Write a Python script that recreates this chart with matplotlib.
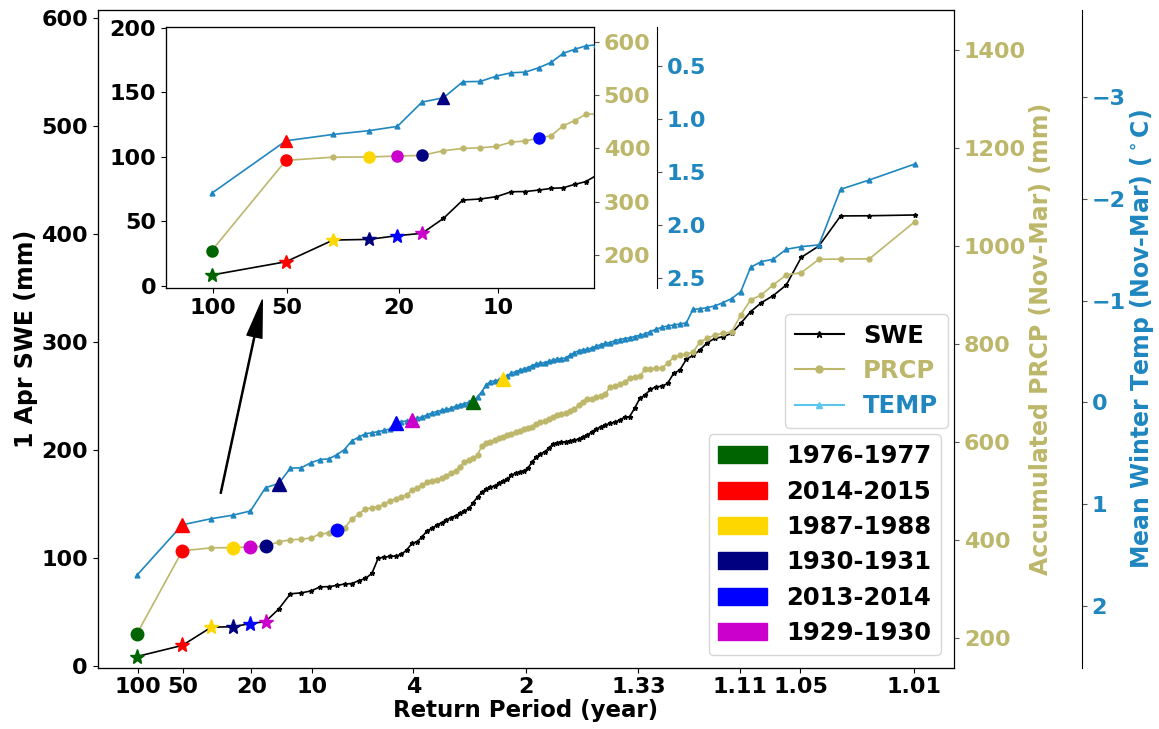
import numpy as np
import matplotlib
matplotlib.use('Agg')
import matplotlib.pyplot as plt
from matplotlib.lines import Line2D
from matplotlib.patches import Patch
from matplotlib.ticker import FixedLocator, FixedFormatter, MultipleLocator
from statistics import NormalDist

# ---------------- data (sorted by rank, 100 years) ----------------
swe = [8.5, 18.8, 35.6, 36.1, 39.0, 40.8, 52.4, 66.6, 67.4, 69.2,
       73.0, 73.2, 74.3, 75.6, 76.1, 78.7, 80.8, 85.5, 99.5, 100.5,
       101.2, 101.5, 103.1, 107.1, 113.3, 114.8, 119.5, 125.0, 127.2, 130.3,
       132.4, 134.9, 137.1, 138.8, 141.0, 143.2, 145.6, 150.9, 156.4, 160.5,
       163.6, 165.4, 166.4, 168.8, 171.0, 172.5, 176.5, 178.1, 179.6, 180.6,
       182.7, 188.9, 193.0, 196.0, 198.0, 201.2, 205.2, 206.5, 207.1, 207.4,
       208.0, 209.0, 209.6, 212.1, 213.3, 216.7, 218.9, 221.3, 222.9, 224.4,
       225.4, 227.5, 230.0, 230.6, 238.3, 247.5, 250.6, 255.8, 258.3, 258.6,
       261.4, 270.6, 273.7, 283.6, 287.3, 292.3, 299.1, 303.1, 304.6, 307.7,
       317.0, 327.8, 336.1, 342.6, 352.5, 378.1, 388.6, 416.4, 416.6, 417.3]

prcp = [208, 377.5, 383.5, 384, 385.6, 386.9, 395.6, 400, 401, 403.8,
        411.9, 413.8, 419.4, 423.8, 442.5, 451.9, 463.8, 465, 467.8, 472.5,
        480, 483.4, 488.2, 491.6, 501.8, 506.6, 512, 517.5, 520.2, 522.2,
        525.6, 531.1, 535.9, 540.6, 549.5, 558.4, 563.1, 566.5, 573.3, 592.4,
        597.2, 600.6, 603.3, 607.4, 610.8, 614.2, 617, 619.7, 622.4, 626.5,
        629.2, 631.3, 636, 640, 642, 646.1, 651.5, 654.9, 656.9, 658.3,
        662.4, 666.5, 675.3, 682.1, 686.9, 688.3, 691, 693.7, 697.8, 712.8,
        714.1, 717.5, 723, 729.8, 731.8, 734.6, 748.2, 749.5, 750.2, 750.9,
        760.4, 772.7, 776.8, 779.5, 782.9, 804.7, 811.5, 818.3, 821.7, 824.5,
        859.2, 890, 900.2, 920.6, 941, 945.7, 973, 973.5, 974, 1050]

temp = [1.701, 1.205, 1.145, 1.110, 1.069, 0.840, 0.799, 0.648, 0.645, 0.594,
        0.563, 0.557, 0.516, 0.465, 0.380, 0.342, 0.310, 0.300, 0.289, 0.276,
        0.262, 0.207, 0.190, 0.184, 0.174, 0.157, 0.144, 0.125, 0.105, 0.092,
        0.079, 0.069, 0.059, 0.039, 0.026, 0.013, 0.000, -0.006, -0.056, -0.105,
        -0.170, -0.203, -0.210, -0.219, -0.229, -0.262, -0.285, -0.301, -0.314, -0.328,
        -0.341, -0.360, -0.377, -0.385, -0.390, -0.403, -0.416, -0.422, -0.429, -0.436,
        -0.462, -0.488, -0.505, -0.515, -0.521, -0.534, -0.551, -0.567, -0.580, -0.587,
        -0.606, -0.616, -0.626, -0.633, -0.646, -0.658, -0.672, -0.695, -0.718, -0.737,
        -0.750, -0.760, -0.770, -0.780, -0.914, -0.918, -0.931, -0.947, -0.980, -1.019,
        -1.088, -1.327, -1.383, -1.406, -1.504, -1.530, -1.547, -2.094, -2.186, -2.343]

tick_prob = [0.01, 0.02, 0.05, 0.1, 0.25, 0.5, 0.75, 0.9, 0.95, 0.99]
tick_labels = ['100', '50', '20', '10', '4', '2', '1.33', '1.11', '1.05', '1.01']
inset_tick_prob = [0.01, 0.02, 0.05, 0.1]
inset_tick_labels = ['100', '50', '20', '10']

years = ['1976-1977', '2014-2015', '1987-1988', '1930-1931', '2013-2014', '1929-1930']
year_colors = ['#006400', '#ff0000', '#ffd700', '#000080', '#0000ff', '#cc00cc']
swe_rank = [1, 2, 3, 4, 5, 6]
prcp_rank = [1, 2, 4, 6, 13, 5]
temp_rank = [38, 2, 45, 7, 22, 25]

C_SWE = 'black'
C_PRCP = '#bdb76b'
C_TEMP = '#1f86c0'
C_TEMP_LEG = '#5cc6ee'

# ---------------- style ----------------
plt.rcParams['font.family'] = ['DejaVu Sans']
plt.rcParams['font.weight'] = 'bold'
plt.rcParams['axes.labelweight'] = 'bold'

n = len(swe)
rank = np.arange(1, n + 1)
prob = rank / (n + 1.0)

_nd = NormalDist()
_ppf = np.vectorize(lambda v: _nd.inv_cdf(float(v)), otypes=[float])
_cdf = np.vectorize(lambda v: _nd.cdf(float(v)), otypes=[float])


def fwd(p):
    p = np.clip(np.asarray(p, dtype=float), 1e-9, 1 - 1e-9)
    return _ppf(p)


def inv(z):
    return _cdf(np.asarray(z, dtype=float))


def draw(ax, ax2, ax3, ms_base, ms_hi):
    ax.plot(prob, swe, color=C_SWE, marker='*', ms=ms_base, lw=1.2, zorder=2)
    ax2.plot(prob, prcp, color=C_PRCP, marker='o', ms=ms_base, lw=1.2, zorder=2)
    ax3.plot(prob, temp, color=C_TEMP, marker='^', ms=ms_base, lw=1.2, zorder=2)
    for c, rs, rp, rt in zip(year_colors, swe_rank, prcp_rank, temp_rank):
        ax.plot(prob[rs - 1], swe[rs - 1], marker='*', ms=ms_hi + 2, color=c,
                ls='none', zorder=5)
        ax2.plot(prob[rp - 1], prcp[rp - 1], marker='o', ms=ms_hi, color=c,
                 ls='none', zorder=5)
        ax3.plot(prob[rt - 1], temp[rt - 1], marker='^', ms=ms_hi + 1, color=c,
                 ls='none', zorder=5)


fig = plt.figure(figsize=(11.59, 7.29), dpi=100)
ax = fig.add_axes([0.0843, 0.0841, 0.7389, 0.9022])
ax.set_xscale('function', functions=(fwd, inv))
ax2 = ax.twinx()
ax3 = ax.twinx()
ax3.spines['right'].set_position(('axes', 1.149))

draw(ax, ax2, ax3, 3.5, 9)

ax.set_xlim(0.00516, 0.99484)
ax.xaxis.set_major_locator(FixedLocator(tick_prob))
ax.xaxis.set_major_formatter(FixedFormatter(tick_labels))
ax.xaxis.set_minor_locator(FixedLocator([]))
ax.set_ylim(-1.85, 607.1)
ax.yaxis.set_major_locator(MultipleLocator(100))
ax2.set_ylim(138.7, 1482.3)
ax2.yaxis.set_major_locator(MultipleLocator(200))
ax3.set_ylim(2.61, -3.857)
ax3.yaxis.set_major_locator(MultipleLocator(1))

fs_tick = 16
ax.tick_params(labelsize=fs_tick)
ax2.tick_params(labelsize=fs_tick, colors=C_PRCP, axis='y')
ax3.tick_params(labelsize=fs_tick, colors=C_TEMP, axis='y')
ax2.tick_params(axis='y', color='#555555')
ax3.tick_params(axis='y', color='#555555')

ax.set_xlabel('Return Period (year)', fontsize=16.5, labelpad=1)
ax.set_ylabel('1 Apr SWE (mm)', fontsize=17, labelpad=2)
ax2.set_ylabel('Accumulated PRCP (Nov-Mar) (mm)', fontsize=17, color=C_PRCP,
               labelpad=2)
ax3.set_ylabel(r'Mean Winter Temp (Nov-Mar) ($^\circ$C)', fontsize=17,
               color=C_TEMP, labelpad=2)

# arrow pointing to the inset
ax.annotate('', xy=(0.1922, 0.559), xytext=(0.1436, 0.2652),
            xycoords='axes fraction', textcoords='axes fraction',
            arrowprops=dict(facecolor='black', edgecolor='black', width=0.8,
                            headwidth=11, headlength=27, shrink=0))

# legends
line_handles = [
    Line2D([], [], color=C_SWE, marker='*', ms=5, lw=1.5, label='SWE'),
    Line2D([], [], color=C_PRCP, marker='o', ms=5, lw=1.5, label='PRCP'),
    Line2D([], [], color=C_TEMP_LEG, marker='^', ms=5, lw=1.5, label='TEMP'),
]
leg1 = ax3.legend(handles=line_handles, loc='upper right',
                  bbox_to_anchor=(0.993, 0.538), borderaxespad=0,
                  prop=dict(size=17.5, weight='bold'), labelspacing=0.47,
                  handlelength=2.0)
for txt, c in zip(leg1.get_texts(), [C_SWE, C_PRCP, C_TEMP]):
    txt.set_color(c)
ax3.add_artist(leg1)
patch_handles = [Patch(color=c, label=y) for c, y in zip(year_colors, years)]
ax3.legend(handles=patch_handles, loc='lower right',
           bbox_to_anchor=(0.985, 0.0193), borderaxespad=0,
           prop=dict(size=17.5, weight='bold'), labelspacing=0.47,
           handlelength=2.0)

# ---------------- inset ----------------
axi = fig.add_axes([0.1432, 0.6045, 0.3693, 0.3588])
axi.set_xscale('function', functions=(fwd, inv))
axi2 = axi.twinx()
axi3 = axi.twinx()
axi3.spines['right'].set_position(('axes', 1.147))
draw(axi, axi2, axi3, 3.5, 8)
axi.set_xlim(0.00626, 0.1762)
axi.xaxis.set_major_locator(FixedLocator(inset_tick_prob))
axi.xaxis.set_major_formatter(FixedFormatter(inset_tick_labels))
axi.xaxis.set_minor_locator(FixedLocator([]))
axi.set_ylim(-1.78, 200.8)
axi.yaxis.set_major_locator(MultipleLocator(50))
axi2.set_ylim(137.6, 628.1)
axi2.yaxis.set_major_locator(MultipleLocator(100))
axi3.set_ylim(2.597, 0.129)
axi3.yaxis.set_major_locator(MultipleLocator(0.5))
axi.tick_params(labelsize=fs_tick)
axi2.tick_params(axis='y', labelsize=fs_tick, labelcolor=C_PRCP, color='#555555')
axi3.tick_params(axis='y', labelsize=fs_tick, labelcolor=C_TEMP, color='#555555')

fig.savefig('out.png', dpi=100)
